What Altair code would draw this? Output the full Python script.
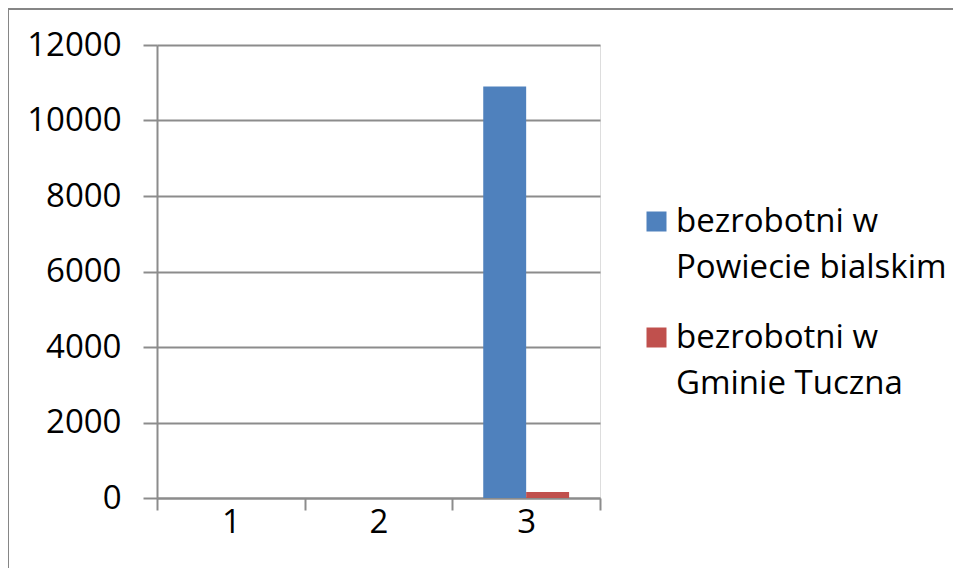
import altair as alt
import pandas as pd

categories = ["1", "2", "3"]
series = ["bezrobotni w Powiecie bialskim", "bezrobotni w Gminie Tuczna"]
powiat_values = [0, 0, 10900]
gmina_values = [0, 0, 160]
y_ticks = [0, 2000, 4000, 6000, 8000, 10000, 12000]
colors = ["#4F81BD", "#C0504D"]

rows = []
for c, v in zip(categories, powiat_values):
    rows.append({"cat": c, "series": series[0], "value": v})
for c, v in zip(categories, gmina_values):
    rows.append({"cat": c, "series": series[1], "value": v})
df = pd.DataFrame(rows)

FONT = "Open Sans"
GRAY = "#8C8C8C"
FS = 33

bars = alt.Chart(df).mark_bar().encode(
    x=alt.X(
        "cat:N",
        sort=categories,
        scale=alt.Scale(paddingInner=0, paddingOuter=0),
        axis=alt.Axis(
            title=None,
            labelAngle=0,
            labelFont=FONT,
            labelFontSize=FS,
            labelColor="#000000",
            labelPadding=-4,
            tickBand="extent",
            tickSize=12,
            tickWidth=2,
            tickColor=GRAY,
            domainColor=GRAY,
            domainWidth=2,
            grid=False,
        ),
    ),
    xOffset=alt.XOffset(
        "series:N",
        sort=series,
        scale=alt.Scale(paddingInner=0, paddingOuter=0.72),
    ),
    y=alt.Y(
        "value:Q",
        scale=alt.Scale(domain=[0, 12000], nice=False),
        axis=alt.Axis(
            title=None,
            values=y_ticks,
            format="d",
            labelFont=FONT,
            labelFontSize=FS,
            labelColor="#000000",
            labelPadding=22,
            tickSize=14,
            tickWidth=2,
            tickColor=GRAY,
            domainColor=GRAY,
            domainWidth=2,
            grid=True,
            gridColor=GRAY,
            gridWidth=2,
        ),
    ),
    color=alt.Color(
        "series:N",
        sort=series,
        scale=alt.Scale(domain=series, range=colors),
        legend=alt.Legend(
            title=None,
            orient="none",
            legendX=483,
            legendY=160,
            symbolType="square",
            symbolSize=400,
            symbolStrokeWidth=0,
            labelFont=FONT,
            labelFontSize=FS,
            labelColor="#000000",
            labelOffset=3,
            labelLimit=400,
            rowPadding=36,
            labelExpr="[slice(datum.label, 0, 12), slice(datum.label, 13)]",
        ),
    ),
)

border = alt.Chart(alt.Data(values=[{}])).mark_rect(
    fill="transparent", stroke="#868686", strokeWidth=2
).encode(
    x=alt.value(-149),
    x2=alt.value(2000),
    y=alt.value(-36),
    y2=alt.value(2000),
)

chart = alt.layer(border, bars).properties(
    width=443,
    height=453,
    padding={"left": 149, "top": 37, "right": 353, "bottom": 70},
    autosize=alt.AutoSizeParams(type="none"),
).configure_view(stroke=None).configure(
    style={"guide-label": {"lineHeight": 46}}
)

chart.save("out.html", embed_options={"renderer": "svg", "actions": False})
